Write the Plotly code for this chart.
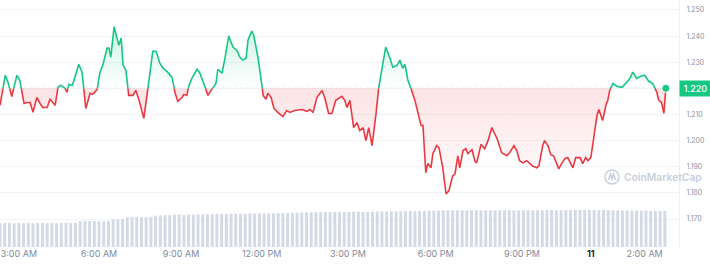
import numpy as np
import plotly.graph_objects as go

# ---- data ----
BASE = 1.2200  # opening price (dotted reference line)

minutes = [0, 4, 11, 17, 25, 36, 42, 51, 57, 64, 70, 78, 85, 91, 100, 106, 117, 123, 129, 138,
           142, 146, 153, 157, 167, 174, 182, 191, 197, 206, 212, 218, 227, 231, 235, 242, 248, 252, 257, 261,
           267, 273, 282, 288, 295, 305, 314, 324, 331, 339, 346, 354, 365, 371, 377, 386, 390, 396, 401, 407,
           418, 424, 435, 441, 452, 458, 462, 471, 477, 485, 494, 502, 509, 515, 522, 526, 534, 538, 547, 555,
           558, 564, 568, 575, 581, 589, 600, 608, 615, 625, 640, 651, 657, 664, 672, 683, 689, 697, 704, 712,
           725, 731, 736, 742, 750, 757, 763, 770, 776, 782, 789, 797, 803, 812, 818, 827, 833, 842, 848, 854,
           859, 865, 873, 880, 893, 897, 903, 907, 914, 918, 926, 931, 939, 946, 952, 960, 965, 971, 975, 982,
           988, 992, 1001, 1007, 1011, 1020, 1028, 1035, 1043, 1054, 1064, 1075, 1081, 1090, 1096, 1102, 1109, 1117, 1124, 1128,
           1138, 1143, 1151, 1155, 1162, 1168, 1174, 1181, 1185, 1191, 1198, 1204, 1215, 1221, 1230, 1236, 1242, 1247, 1253, 1259,
           1266, 1270, 1278, 1285, 1289, 1293, 1300, 1308, 1319, 1327, 1336, 1342, 1350, 1359, 1367, 1376, 1384, 1393, 1397, 1403,
           1408, 1412]
prices = [1.2135, 1.2173, 1.2250, 1.2223, 1.2169, 1.2250, 1.2231, 1.2142, 1.2146, 1.2146, 1.2108, 1.2165, 1.2142, 1.2127, 1.2127, 1.2158, 1.2135, 1.2204, 1.2212, 1.2200,
          1.2185, 1.2215, 1.2212, 1.2231, 1.2292, 1.2262, 1.2123, 1.2181, 1.2177, 1.2196, 1.2262, 1.2288, 1.2354, 1.2354, 1.2319, 1.2435, 1.2392, 1.2365, 1.2392, 1.2288,
          1.2269, 1.2173, 1.2173, 1.2192, 1.2154, 1.2085, 1.2204, 1.2342, 1.2342, 1.2296, 1.2277, 1.2265, 1.2242, 1.2185, 1.2150, 1.2165, 1.2177, 1.2173, 1.2212, 1.2238,
          1.2273, 1.2258, 1.2204, 1.2173, 1.2204, 1.2219, 1.2273, 1.2258, 1.2315, 1.2400, 1.2358, 1.2346, 1.2319, 1.2308, 1.2315, 1.2385, 1.2419, 1.2404, 1.2319, 1.2223,
          1.2173, 1.2158, 1.2181, 1.2165, 1.2123, 1.2108, 1.2092, 1.2115, 1.2108, 1.2115, 1.2119, 1.2112, 1.2119, 1.2108, 1.2165, 1.2192, 1.2162, 1.2104, 1.2104, 1.2154,
          1.2169, 1.2154, 1.2127, 1.2154, 1.2050, 1.2069, 1.2038, 1.2050, 1.2000, 1.2050, 1.1981, 1.2096, 1.2200, 1.2296, 1.2358, 1.2315, 1.2281, 1.2288, 1.2308, 1.2277,
          1.2292, 1.2231, 1.2192, 1.2154, 1.2058, 1.2058, 1.1877, 1.1912, 1.1896, 1.1950, 1.1981, 1.1973, 1.1896, 1.1796, 1.1808, 1.1865, 1.1873, 1.1942, 1.1896, 1.1962,
          1.1969, 1.1950, 1.1965, 1.1923, 1.1915, 1.1985, 1.1969, 1.2000, 1.2050, 1.2008, 1.1954, 1.1942, 1.1954, 1.1981, 1.1962, 1.1923, 1.1915, 1.1923, 1.1912, 1.1904,
          1.1896, 1.1904, 1.1981, 1.2000, 1.1981, 1.1946, 1.1942, 1.1912, 1.1892, 1.1912, 1.1931, 1.1935, 1.1896, 1.1935, 1.1935, 1.1912, 1.1935, 1.1923, 1.1935, 1.2008,
          1.2096, 1.2119, 1.2077, 1.2135, 1.2154, 1.2192, 1.2219, 1.2208, 1.2204, 1.2219, 1.2238, 1.2262, 1.2238, 1.2246, 1.2250, 1.2227, 1.2219, 1.2185, 1.2154, 1.2146,
          1.2104, 1.2200]

# 24h volume, one bar every 10 minutes
volumes = [96, 97, 97, 96, 97, 97, 97, 96, 97, 97, 97, 97, 96, 97, 97, 97, 98,
           104, 105, 105, 105, 104, 105, 106,
           112, 113, 113,
           120, 121, 121, 121, 120, 122,
           127, 128, 128, 129,
           131, 131, 130, 131, 131, 132, 132,
           133, 133, 134, 134, 134, 134, 135, 135, 134, 135, 135, 136, 136, 136, 136, 137, 137, 137, 138, 138, 139,
           140, 140, 141, 141, 141, 142, 142, 142, 142, 142, 143, 143, 142, 143, 143, 143, 144, 144, 144, 144, 145, 145, 145, 145, 146, 146,
           147, 147, 147, 148, 148, 148, 148, 148, 148, 149, 149, 148, 148, 148, 149, 149, 149, 149, 148, 148, 149, 149, 149, 149, 149,
           150, 150, 149, 149, 149, 149, 150, 150, 150, 150, 149, 149, 150, 150,
           149, 148, 148, 148, 147, 147, 147, 147, 146, 146, 146, 146]
VOL_STEP = 10  # minutes between volume bars

tick_minutes = [40, 210, 384, 555, 738, 924, 1107, 1253, 1367]
tick_labels = ["3:00 AM", "6:00 AM", "9:00 AM", "12:00 PM", "3:00 PM", "6:00 PM", "9:00 PM",
               "<span style='color:#222531'><b>11</b></span>", "2:00 AM"]
price_ticks = [1.17, 1.18, 1.19, 1.20, 1.21, 1.22, 1.23, 1.24, 1.25]
LAST_LABEL = "1.220"

GREEN = "#16c784"
RED = "#ea3943"

# ---- split the line where it crosses the reference price ----
t = np.array(minutes, float)
p = np.array(prices, float)
xs, ys = [t[0]], [p[0]]
for i in range(1, len(t)):
    a, b = p[i - 1] - BASE, p[i] - BASE
    if a * b < 0:
        f = a / (a - b)
        xs.append(t[i - 1] + f * (t[i] - t[i - 1]))
        ys.append(BASE)
    xs.append(t[i])
    ys.append(p[i])
xs = np.array(xs)
ys = np.array(ys)
green_y = [v if v >= BASE - 1e-9 else None for v in ys]
red_y = [v if v <= BASE + 1e-9 else None for v in ys]

fig = go.Figure()
base_trace = dict(x=[xs[0], xs[-1]], y=[BASE, BASE], mode="lines", line=dict(width=0),
                  hoverinfo="skip", showlegend=False)
fig.add_trace(go.Scatter(**base_trace))
fig.add_trace(go.Scatter(x=xs, y=np.maximum(ys, BASE), mode="lines", line=dict(width=0),
                         fill="tonexty",
                         fillgradient=dict(type="vertical", start=BASE, stop=1.245,
                                           colorscale=[[0, "rgba(22,199,132,0.0)"], [1, "rgba(22,199,132,0.22)"]]),
                         hoverinfo="skip", showlegend=False))
fig.add_trace(go.Scatter(**base_trace))
fig.add_trace(go.Scatter(x=xs, y=np.minimum(ys, BASE), mode="lines", line=dict(width=0),
                         fill="tonexty",
                         fillgradient=dict(type="vertical", start=BASE, stop=1.178,
                                           colorscale=[[0, "rgba(234,57,67,0.14)"], [1, "rgba(234,57,67,0.0)"]]),
                         hoverinfo="skip", showlegend=False))

# volume bars
fig.add_trace(go.Bar(x=[i * VOL_STEP for i in range(len(volumes))], y=volumes, yaxis="y2",
                     marker=dict(color="#d3d9e5", line=dict(width=0)), hoverinfo="skip", showlegend=False))

fig.add_trace(go.Scatter(x=xs, y=red_y, mode="lines", line=dict(color=RED, width=1.6),
                         connectgaps=False, hoverinfo="skip", showlegend=False))
fig.add_trace(go.Scatter(x=xs, y=green_y, mode="lines", line=dict(color=GREEN, width=1.6),
                         connectgaps=False, hoverinfo="skip", showlegend=False))
fig.add_trace(go.Scatter(x=[minutes[-1]], y=[prices[-1]], mode="markers",
                         marker=dict(color=GREEN, size=8, line=dict(color="white", width=1)),
                         hoverinfo="skip", showlegend=False))

fig.add_shape(type="line", xref="paper", x0=0, x1=1, yref="y", y0=BASE, y1=BASE,
              line=dict(color="#b8c0cc", width=1, dash="dot"), layer="below")

fig.add_annotation(xref="paper", x=1, yref="y", y=BASE, xanchor="left", yanchor="middle",
                   text=LAST_LABEL, showarrow=False, bgcolor=GREEN, width=29, height=13, borderpad=1,
                   font=dict(family="Inter", size=9, color="white", weight=500))

# watermark
fig.add_shape(type="circle", xref="paper", yref="paper",
              x0=605 / 679, x1=619 / 679, y0=(247 - 184) / 247, y1=(247 - 170) / 247,
              line=dict(color="#c9d0dc", width=1.6))
fig.add_shape(type="path", xref="paper", yref="paper",
              path="M {:.4f},{:.4f} L {:.4f},{:.4f} L {:.4f},{:.4f} L {:.4f},{:.4f} L {:.4f},{:.4f}".format(
                  608.5 / 679, (247 - 180) / 247, 610.5 / 679, (247 - 174) / 247,
                  612 / 679, (247 - 179) / 247, 613.5 / 679, (247 - 174) / 247,
                  615.5 / 679, (247 - 180) / 247),
              line=dict(color="#c9d0dc", width=1.6))
fig.add_annotation(xref="paper", x=622 / 679, yref="paper", y=(247 - 177) / 247,
                   xanchor="left", yanchor="middle", text="CoinMarketCap", showarrow=False,
                   font=dict(family="Inter", size=10.3, color="#c9d0dc", weight=600))

fig.update_layout(
    width=710, height=264,
    margin=dict(l=0, r=31, t=0, b=17),
    paper_bgcolor="white", plot_bgcolor="white",
    bargap=0.38,
    xaxis=dict(range=[0, 1440], showgrid=False, zeroline=False, showline=False,
               tickmode="array", tickvals=tick_minutes, ticktext=tick_labels, ticks="",
               ticklabeloverflow="allow",
               tickfont=dict(family="Inter", size=9, color="#808a9d")),
    yaxis=dict(range=[1.1593, 1.2538], side="right", tickmode="array", tickvals=price_ticks,
               ticktext=["" if abs(v - BASE) < 1e-9 else "{:.3f}".format(v) for v in price_ticks],
               showgrid=True, gridcolor="#f1f3f6",
               gridwidth=1, zeroline=False, showline=True, linecolor="#eceff3", linewidth=1,
               ticks="", ticklabelstandoff=5,
               tickfont=dict(family="Inter", size=7, color="#8a93a5")),
    yaxis2=dict(overlaying="y", range=[0, 1000], visible=False),
    font=dict(family="Inter"),
)

fig.write_html("out.html")
